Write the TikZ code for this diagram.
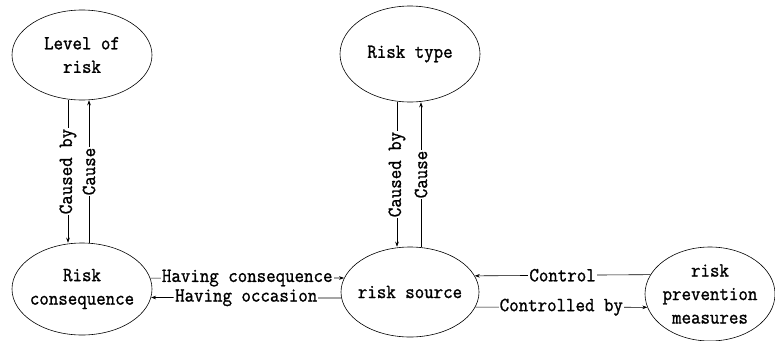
\documentclass[tikz,border=0pt]{standalone}
\usepackage{fontspec}
\setmainfont{Latin Modern Mono}[FakeStretch=0.92,FakeBold=1.2]
\usetikzlibrary{shapes.geometric,arrows.meta}
\begin{document}
\begin{tikzpicture}[x=1pt,y=-1pt,
  ell/.style={draw,ellipse,line width=0.6pt,inner sep=0pt},
  txt/.style={font=\fontsize{20}{23.5}\selectfont,align=center,inner sep=0pt},
  conn/.style={line width=0.6pt,-{Stealth[length=5pt,width=3.6pt]}},
  lab/.style={font=\fontsize{20}{24}\selectfont,fill=white,inner xsep=1pt,inner ysep=0pt}]
\useasboundingbox (0,0) rectangle (775,340);
\node[ell,minimum width=140pt,minimum height=90pt] (lr) at (82,55) {};
\node[txt] (lrt) at (lr) {Level of\\risk};
\node[ell,minimum width=140pt,minimum height=92pt] (rc) at (82,289) {};
\node[txt] (rct) at (rc) {Risk\\consequence};
\node[ell,minimum width=140pt,minimum height=96pt] (rt) at (410,54) {};
\node[txt] (rtt) at (rt) {Risk type};
\node[ell,minimum width=138pt,minimum height=90pt] (rs) at (410,292) {};
\node[txt] (rst) at (rs) {risk source};
\node[ell,minimum width=130pt,minimum height=94pt] (rp) at (710,294) {};
\node[txt] (rpt) at (rp) {risk\\prevention\\measures};
% vertical
\draw[conn] ([xshift=-14pt]lr.south) -- node[lab,rotate=90] {Caused by} ([xshift=-14pt]rc.north);
\draw[conn] ([xshift=7pt]rc.north) -- node[lab,rotate=90] {Cause} ([xshift=7pt]lr.south);
\draw[conn] ([xshift=-13pt]rt.south) -- node[lab,rotate=90] {Caused by} ([xshift=-13pt]rs.north);
\draw[conn] ([xshift=11pt]rs.north) -- node[lab,rotate=90] {Cause} ([xshift=11pt]rt.south);
% horizontal
\draw[conn] (rc.9.2) -- node[lab] {Having consequence} (rs.168);
\draw[conn] (rs.185) -- node[lab] {Having occasion} (rc.-7.5);
\draw[conn] (rp.162.3) -- node[lab] {Control} (rs.14.9);
\draw[conn] (rs.-13.9) -- node[lab] {Controlled by} (rp.192.7);
\end{tikzpicture}
\end{document}
